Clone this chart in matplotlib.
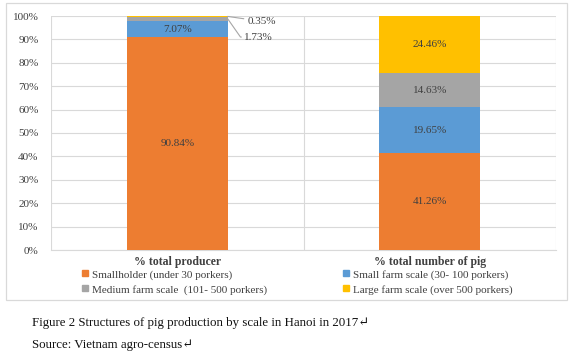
import matplotlib
matplotlib.use("Agg")
import matplotlib.pyplot as plt
from matplotlib.patches import Rectangle
from matplotlib.lines import Line2D
import numpy as np

plt.rcParams['font.family'] = ['Liberation Serif', 'DejaVu Serif']

# ── data ─────────────────────────────────────────────────────────────────────
categories = ["% total producer", "% total number of pig"]
series = ["Smallholder (under 30 porkers)", "Small farm scale (30- 100 porkers)",
          "Medium farm scale  (101- 500 porkers)", "Large farm scale (over 500 porkers)"]
smallholder = [90.84, 41.26]
small_farm = [7.07, 19.65]
medium_farm = [1.73, 14.63]
large_farm = [0.35, 24.46]
colors = ["#ED7D31", "#5B9BD5", "#A5A5A5", "#FFC000"]
txt = "#404040"

W, H = 571, 356
fig = plt.figure(figsize=(W / 100, H / 100), dpi=100)
# chart frame
fig.patches.append(Rectangle((6 / W, 1 - 300 / H), 561 / W, 297 / H, transform=fig.transFigure,
                             fill=False, ec="#d9d9d9", lw=0.9))
ax = fig.add_axes([51 / W, 1 - 250 / H, 505 / W, 234 / H])
ax.set_xlim(-0.5, 1.5)
ax.set_ylim(0, 100)

# hatched plot background
plt.rcParams['hatch.color'] = "#dedede"
plt.rcParams['hatch.linewidth'] = 0.4
ax.add_patch(Rectangle((0, 0), 1, 1, transform=ax.transAxes, fc="white", ec="none",
                       hatch="xxxxxxx", zorder=0))

x = np.arange(len(categories))
bottom = np.zeros(len(categories))
for vals, c in zip([smallholder, small_farm, medium_farm, large_farm], colors):
    ax.bar(x, vals, width=0.4, bottom=bottom, color=c, zorder=3)
    bottom += np.array(vals)

# inside labels
inside = [(0, smallholder[0], 0), (0, small_farm[0], smallholder[0]),
          (1, smallholder[1], 0), (1, small_farm[1], smallholder[1]),
          (1, medium_farm[1], smallholder[1] + small_farm[1]),
          (1, large_farm[1], smallholder[1] + small_farm[1] + medium_farm[1])]
for xi, v, b in inside:
    ax.text(xi, b + v / 2, f"{v:.2f}%", ha="center", va="center", fontsize=8, color=txt, zorder=4)

# outside labels with leader lines for small segments
b_med = smallholder[0] + small_farm[0]
b_lrg = b_med + medium_farm[0]
ax.annotate(f"{large_farm[0]:.2f}%", xy=(0.2, b_lrg + large_farm[0] / 2), xytext=(0.28, 97.7),
            fontsize=8, color=txt, va="center", ha="left", annotation_clip=False,
            arrowprops=dict(arrowstyle="-", color="#a6a6a6", lw=0.8, shrinkA=1, shrinkB=0))
ax.annotate(f"{medium_farm[0]:.2f}%", xy=(0.2, b_med + medium_farm[0] / 2), xytext=(0.265, 91.0),
            fontsize=8, color=txt, va="center", ha="left", annotation_clip=False,
            arrowprops=dict(arrowstyle="-", color="#a6a6a6", lw=0.8, shrinkA=0, shrinkB=0,
                            connectionstyle="angle,angleA=0,angleB=-55,rad=0"))

# grid and axes styling
ax.set_yticks(np.arange(0, 101, 10))
ax.set_yticklabels([f"{v}%" for v in range(0, 101, 10)], fontsize=8, color=txt)
ax.yaxis.grid(True, color="#d9d9d9", lw=0.8, zorder=1)
for xv in (-0.5, 0.5, 1.5):
    ax.axvline(xv, color="#d9d9d9", lw=0.8, zorder=1)
ax.set_xticks(x)
ax.set_xticklabels(categories, fontsize=8.5, fontweight="bold", color=txt)
ax.tick_params(axis="x", length=0, pad=4)
ax.tick_params(axis="y", length=0, pad=9)
for s in ax.spines.values():
    s.set_visible(False)
ax.spines["bottom"].set_visible(True)
ax.spines["bottom"].set_color("#d9d9d9")

handles = [Line2D([], [], ls="none", marker="s", ms=5, color=colors[i], label=series[i])
           for i in [0, 2, 1, 3]]
leg = fig.legend(handles=handles, loc="upper left", bbox_to_anchor=(82 / W, 1 - 269.5 / H),
                 ncol=2, frameon=False, fontsize=8, handlelength=0.6, handletextpad=0.3,
                 columnspacing=6.8, labelspacing=0.45, borderaxespad=0, borderpad=0)
for t in leg.get_texts():
    t.set_color(txt)

fig.text(32 / W, 1 - 323 / H, "Figure 2 Structures of pig production by scale in Hanoi in 2017\u21b5",
         fontsize=9.3, va="center", ha="left", color="#111111")
fig.text(32 / W, 1 - 345 / H, "Source: Vietnam agro-census\u21b5",
         fontsize=9.3, va="center", ha="left", color="#111111")

fig.savefig("out.png", dpi=100)
